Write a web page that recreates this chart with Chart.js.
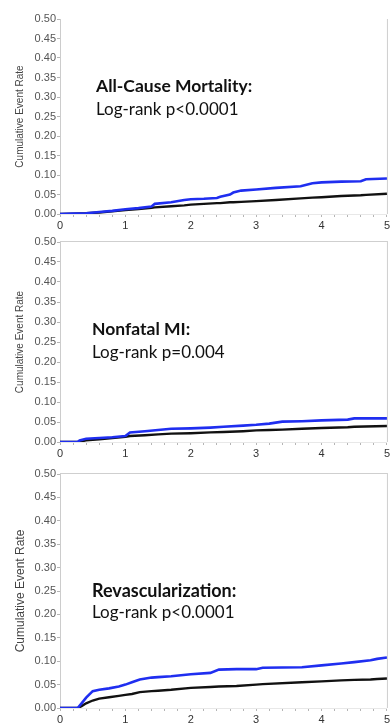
<!DOCTYPE html>
<html>
<head>
<meta charset="utf-8">
<script src="https://cdn.jsdelivr.net/npm/chart.js@4.4.1/dist/chart.umd.min.js"></script>
<style>
  html, body { margin: 0; padding: 0; background: #fff; }
  body { width: 392px; height: 727px; position: relative; overflow: hidden; }
  canvas { position: absolute; left: 0; }
  .lbl { position: absolute; font-family: Lato, "Open Sans", sans-serif; color: #111; white-space: nowrap; line-height: 1.2; }
  .b { font-weight: bold; font-size: 17.5px; }
  .n { font-size: 17px; }
</style>
</head>
<body>
<canvas id="c1" width="392" height="236" style="top:0px"></canvas>
<canvas id="c2" width="392" height="236" style="top:230px"></canvas>
<canvas id="c3" width="392" height="265" style="top:462px"></canvas>

<div class="lbl b" style="left:96px; top:75px;">All-Cause Mortality:</div>
<div class="lbl n" style="left:96px; top:99px;">Log-rank p&lt;0.0001</div>
<div class="lbl b" style="left:92px; top:318px;">Nonfatal MI:</div>
<div class="lbl n" style="left:92px; top:342px;">Log-rank p=0.004</div>
<div class="lbl b" style="left:92px; top:580px; font-size:18px;">Revascularization:</div>
<div class="lbl n" style="left:92px; top:602px;">Log-rank p&lt;0.0001</div>

<script>
// ---- data (years, cumulative event rate) ----
const yTickValues = [0, 0.05, 0.10, 0.15, 0.20, 0.25, 0.30, 0.35, 0.40, 0.45, 0.50];
const xTickLabels = ["0", "1", "2", "3", "4", "5"];
const yAxisTitle = "Cumulative Event Rate";

// All-Cause Mortality
const mortTimes = [0, 0.2, 0.4, 0.6, 0.8, 1.0, 1.2, 1.4, 1.45, 1.7, 1.9, 2.0, 2.2, 2.4, 2.45, 2.6, 2.65, 2.77, 3.0, 3.3, 3.68, 3.86, 4.0, 4.3, 4.6, 4.68, 5.0];
const mortBlue  = [0, 0.001, 0.002, 0.005, 0.008, 0.012, 0.015, 0.019, 0.026, 0.030, 0.036, 0.038, 0.039, 0.041, 0.044, 0.050, 0.055, 0.060, 0.063, 0.067, 0.071, 0.079, 0.081, 0.083, 0.084, 0.089, 0.091];
const mortBlack = [0, 0.001, 0.002, 0.004, 0.007, 0.010, 0.013, 0.016, 0.017, 0.020, 0.022, 0.024, 0.026, 0.028, 0.028, 0.030, 0.030, 0.031, 0.033, 0.036, 0.040, 0.042, 0.043, 0.046, 0.048, 0.049, 0.052];

// Nonfatal MI
const miTimes = [0, 0.27, 0.3, 0.4, 0.6, 0.8, 1.0, 1.07, 1.3, 1.5, 1.7, 2.0, 2.3, 2.5, 2.8, 3.0, 3.2, 3.4, 3.7, 4.0, 4.4, 4.5, 5.0];
const miBlue  = [0, 0, 0.004, 0.008, 0.010, 0.012, 0.015, 0.024, 0.027, 0.030, 0.033, 0.034, 0.036, 0.038, 0.041, 0.043, 0.046, 0.051, 0.052, 0.054, 0.056, 0.059, 0.059];
const miBlack = [0, 0, 0.001, 0.004, 0.007, 0.010, 0.013, 0.015, 0.017, 0.019, 0.021, 0.022, 0.024, 0.025, 0.027, 0.029, 0.030, 0.031, 0.033, 0.035, 0.037, 0.038, 0.040];

// Revascularization
const revTimes = [0, 0.27, 0.33, 0.4, 0.5, 0.6, 0.75, 0.9, 1.0, 1.1, 1.22, 1.4, 1.5, 1.7, 2.0, 2.3, 2.43, 2.7, 3.0, 3.1, 3.7, 4.0, 4.3, 4.5, 4.75, 4.85, 5.0];
const revBlue  = [0, 0, 0.010, 0.022, 0.036, 0.039, 0.042, 0.046, 0.050, 0.055, 0.061, 0.065, 0.066, 0.068, 0.072, 0.075, 0.082, 0.083, 0.083, 0.086, 0.087, 0.091, 0.095, 0.098, 0.102, 0.105, 0.108];
const revBlack = [0, 0, 0.004, 0.010, 0.016, 0.020, 0.023, 0.026, 0.028, 0.030, 0.034, 0.036, 0.037, 0.039, 0.043, 0.045, 0.046, 0.047, 0.050, 0.051, 0.055, 0.057, 0.059, 0.060, 0.061, 0.062, 0.063];

const BLUE = "#1f2ef0";
const BLACK = "#111111";

const framePlugin = {
  id: "frame",
  afterDraw(chart, args, opts) {
    const {ctx, chartArea: a} = chart;
    ctx.save();
    ctx.strokeStyle = "#cfcfcf";
    ctx.lineWidth = 1;
    ctx.beginPath();
    ctx.moveTo(a.right + 0.5, a.top);
    ctx.lineTo(a.right + 0.5, a.bottom);
    if (opts.top) {
      ctx.moveTo(a.left, a.top - 0.5);
      ctx.lineTo(a.right + 1, a.top - 0.5);
    }
    ctx.stroke();
    ctx.restore();
  }
};

function toXY(times, vals) {
  return times.map((t, i) => ({x: t, y: vals[i]}));
}

function makeChart(id, times, blue, black, cfg) {
  return new Chart(document.getElementById(id), {
    type: "line",
    data: {
      datasets: [
        {data: toXY(times, blue), borderColor: BLUE, borderWidth: 2.6, pointRadius: 0, tension: 0, fill: false},
        {data: toXY(times, black), borderColor: BLACK, borderWidth: 2.4, pointRadius: 0, tension: 0, fill: false}
      ]
    },
    plugins: [framePlugin],
    options: {
      responsive: false,
      animation: false,
      devicePixelRatio: 1,
      layout: {padding: {top: cfg.padTop, bottom: cfg.padBottom, left: 0, right: 0}},
      plugins: {legend: {display: false}, tooltip: {enabled: false}, frame: {top: cfg.topBorder}},
      scales: {
        x: {
          type: "linear", min: 0, max: 5,
          afterFit(s) { s.height = cfg.xHeight; },
          border: {color: "#e8e8e8"},
          grid: {drawOnChartArea: false, drawTicks: true, tickLength: 3, color: "#b5b5b5"},
          ticks: {
            stepSize: 0.2, autoSkip: false, maxRotation: 0, padding: 2,
            color: "#333", font: {family: "'Liberation Sans', Arial, sans-serif", size: 11},
            callback(v) {
              const r = Math.round(v);
              return Math.abs(v - r) < 1e-6 ? xTickLabels[r] : "";
            }
          }
        },
        y: {
          min: 0, max: 0.5,
          afterFit(s) { s.width = 60; },
          afterBuildTicks(s) { s.ticks = yTickValues.map(v => ({value: v})); },
          border: {color: "#cccccc"},
          grid: {drawOnChartArea: false, drawTicks: true, tickLength: 3, color: "#b5b5b5"},
          title: {display: true, text: yAxisTitle, color: "#444", padding: {top: cfg.titlePad, bottom: 0},
                  font: {family: "'Liberation Sans', Arial, sans-serif", size: cfg.titleSize}},
          ticks: {padding: 1, color: "#555", font: {family: "'Liberation Sans', Arial, sans-serif", size: 11},
                  callback(v) { return Number(v).toFixed(2); }}
        }
      }
    }
  });
}

makeChart("c1", mortTimes, mortBlue, mortBlack, {padTop: 19, padBottom: 2, xHeight: 20, topBorder: false, titleSize: 10, titlePad: 14});
makeChart("c2", miTimes, miBlue, miBlack, {padTop: 12, padBottom: 4, xHeight: 20, topBorder: true, titleSize: 10, titlePad: 14});
makeChart("c3", revTimes, revBlue, revBlack, {padTop: 12, padBottom: 0, xHeight: 19, topBorder: true, titleSize: 12, titlePad: 13});
</script>
</body>
</html>
